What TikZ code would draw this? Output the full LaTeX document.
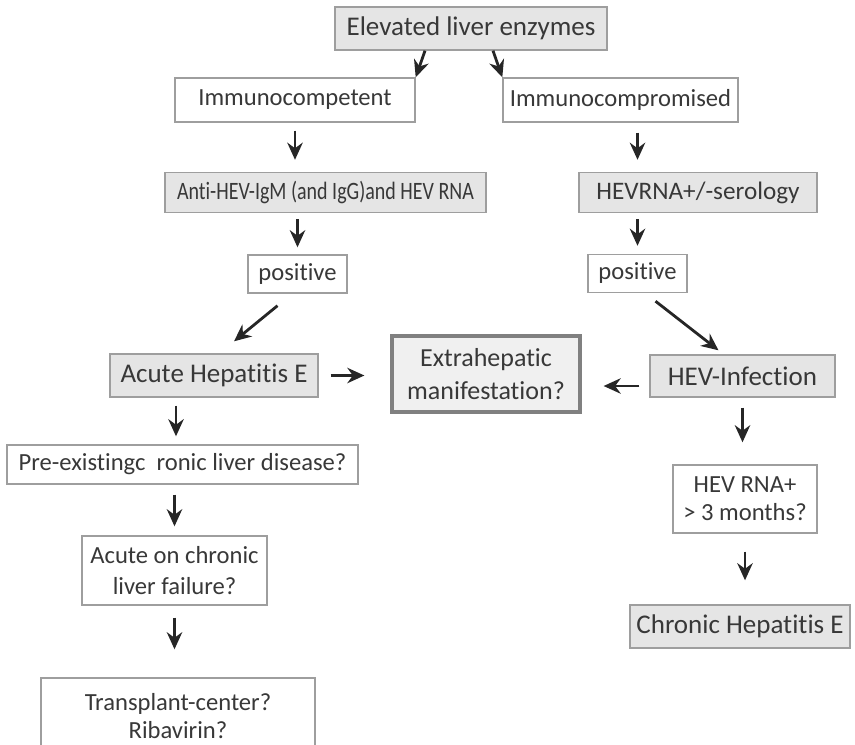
\documentclass[tikz,border=0pt]{standalone}
\usepackage{fontspec}
\setmainfont{Carlito}[Ligatures=NoCommon]
\usetikzlibrary{arrows.meta,calc}

\begin{document}
\begin{tikzpicture}[
    x=0.5pt, y=-0.5pt,
    box/.style={draw=black!38, line width=0.7pt, fill=white, align=center, text=black!78, inner sep=1pt, font=\fontsize{12.3}{14}\selectfont},
    gbox/.style={box, fill=black!10, font=\fontsize{13.5}{16}\selectfont},
    arr/.style={-{Stealth[length=3mm,width=2.7mm]}, line width=1.4pt, black!85}
  ]
    \useasboundingbox (0,0) rectangle (855,744);
    \clip (0,0) rectangle (855,744);

    \node[gbox, minimum width=136pt, minimum height=21.5pt] (elev) at (471,28.5) {Elevated liver enzymes};
    \node[box, minimum width=120pt, minimum height=22pt] (imc) at (295,100) {Immunocompetent};
    \node[box, minimum width=117.5pt, minimum height=22pt] (imp) at (620.5,100) {Immunocompromised};

    % left column
    \node[gbox, minimum width=160.5pt, minimum height=20pt, font=\fontsize{12.5}{14}\selectfont\addfontfeature{FakeStretch=0.8}] (anti) at (325.5,192.5) {Anti-HEV-IgM (and IgG)and HEV RNA};
    \node[box, minimum width=49.5pt, minimum height=19pt] (posl) at (297.5,274) {positive};
    \node[gbox, minimum width=104pt, minimum height=21.5pt] (acute) at (214,375.5) {Acute Hepatitis E};
    \node[box, minimum width=175.5pt, minimum height=19.5pt] (pre) at (182.5,464.5) {Pre-existingc\ \ ronic liver disease?};
    \node[box, minimum width=92.5pt, minimum height=34.5pt, font=\fontsize{12.3}{15.5}\selectfont] (aoc) at (174.5,570.5) {Acute on chronic\\liver failure?};
    \node[box, minimum width=137pt, minimum height=38pt, font=\fontsize{12.3}{14}\selectfont] (trans) at (178,716) {Transplant-center?\\Ribavirin?};

    % middle
    \node[gbox, draw=black!50, line width=1.6pt, fill=black!6, minimum width=94pt, minimum height=38pt, font=\fontsize{13}{16.5}\selectfont] (extra) at (486,374) {Extrahepatic\\manifestation?};

    % right column
    \node[gbox, minimum width=119pt, minimum height=20pt, font=\fontsize{12.6}{14}\selectfont] (hevrna) at (698,192.5) {HEVRNA+/-serology};
    \node[box, minimum width=49.5pt, minimum height=19pt] (posr) at (637.5,273.5) {positive};
    \node[gbox, minimum width=92.5pt, minimum height=21pt] (hevinf) at (742.5,376) {HEV-Infection};
    \node[box, minimum width=72pt, minimum height=34pt, font=\fontsize{12.3}{14}\selectfont] (rnalong) at (745,499) {HEV RNA+\\> 3 months?};
    \node[gbox, minimum width=110pt, minimum height=21.5pt] (chron) at (740,626.5) {Chronic Hepatitis E};

    \draw[arr] ([xshift=-23pt]elev.south) -- (imc.north east);
    \draw[arr] ([xshift=11pt]elev.south) -- (imp.north west);
    \draw[arr, shorten <=4pt, shorten >=6pt] (imc.south) -- (imc.south |- anti.north);
    \draw[arr, shorten <=3pt, shorten >=3.5pt] (anti.south -| posl.north) -- (posl.north);
    \draw[arr] ([xshift=-10pt,yshift=-6pt]posl.south) -- ([xshift=10pt,yshift=6pt]acute.north);
    \draw[arr, shorten <=6pt, shorten >=13pt] (acute.east) -- (acute.east -| extra.west);
    \draw[arr, shorten <=4pt, shorten >=4pt] ([xshift=-19pt]acute.south) -- ([xshift=-19pt]acute.south |- pre.north);
    \draw[arr, shorten <=5pt, shorten >=4.5pt] (pre.south -| aoc.north) -- (aoc.north);
    \draw[arr, shorten <=6pt, shorten >=14pt] (aoc.south) -- (aoc.south |- trans.north);

    \draw[arr, shorten <=5pt, shorten >=6pt] (imp.south -| posr.north) -- (hevrna.north -| posr.north);
    \draw[arr, shorten <=3pt, shorten >=4pt] (hevrna.south -| posr.north) -- (posr.north);
    \draw[arr] ([xshift=9pt,yshift=-4pt]posr.south) -- ([xshift=-12pt,yshift=2pt]hevinf.north);
    \draw[arr, shorten <=5pt, shorten >=11pt] ([yshift=-5pt]hevinf.west) -- ([yshift=-5pt]hevinf.west -| extra.east);
    \draw[arr, shorten <=5pt, shorten >=11pt] (hevinf.south) -- (hevinf.south |- rnalong.north);
    \draw[arr, shorten <=9pt, shorten >=12pt] (rnalong.south) -- (rnalong.south |- chron.north);
  \end{tikzpicture}
\end{document}
